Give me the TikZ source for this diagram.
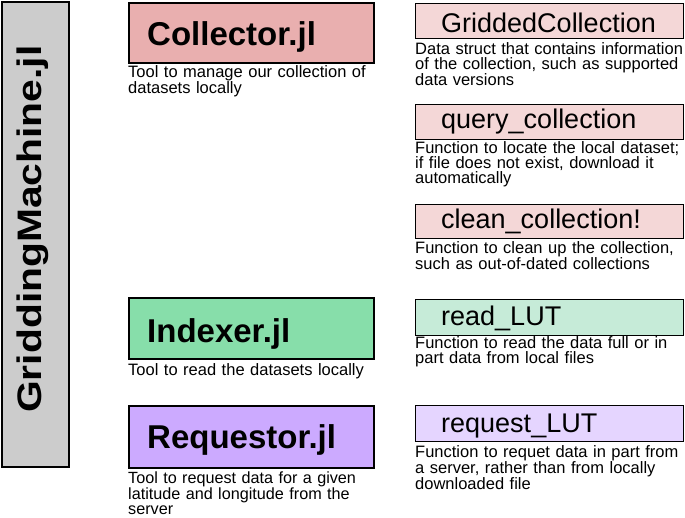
\documentclass[tikz,border=0pt]{standalone}
\usepackage{fontspec}
\setmainfont{Liberation Sans}
\definecolor{greyfill}{HTML}{CCCCCC}
\definecolor{colfill}{HTML}{E9AFAF}
\definecolor{colfunc}{HTML}{F4D7D7}
\definecolor{idxfill}{HTML}{87DEAA}
\definecolor{idxfunc}{HTML}{C6EBD8}
\definecolor{reqfill}{HTML}{CCAAFF}
\definecolor{reqfunc}{HTML}{E5D5FF}
\begin{document}
\begin{tikzpicture}[x=1pt,y=-1pt,
  modbox/.style={draw, line width=1.8pt, anchor=north west, inner sep=0pt, minimum width=245pt},
  funcbox/.style={draw, line width=1.2pt, anchor=north west, inner sep=0pt, minimum width=268pt},
  modtitle/.style={anchor=base west, inner sep=0pt, font=\fontsize{33}{36}\selectfont\bfseries},
  functitle/.style={anchor=base west, inner sep=0pt, font=\fontsize{27}{30}\selectfont},
  desc/.style={anchor=base west, inner sep=0pt, align=left, text width=275pt, font=\fontsize{16.5}{15.3}\selectfont}]
\useasboundingbox (0,0) rectangle (685,517);
% main package box
\node[draw, line width=2pt, fill=greyfill, anchor=north west, inner sep=0pt, minimum width=67pt, minimum height=465pt] (gm) at (1,1) {};
\node[rotate=90, anchor=base west, inner sep=0pt, font=\fontsize{34}{38}\selectfont\bfseries] (gmtext) at (41,413) {\scalebox{1.2}[1]{GriddingMachine.jl}};
% modules
\node[modbox, fill=colfill, minimum height=60pt] (collector) at (128,2) {};
\node[modtitle] (collectort) at (147,45) {Collector.jl};
\node[desc] (collectord) at (128,77) {Tool to manage our collection of\\datasets locally};
\node[modbox, fill=idxfill, minimum height=61pt] (indexer) at (128,297) {};
\node[modtitle] (indexert) at (147,342) {Indexer.jl};
\node[desc] (indexerd) at (128,375) {Tool to read the datasets locally};
\node[modbox, fill=reqfill, minimum height=62pt] (requestor) at (128,405) {};
\node[modtitle] (requestort) at (147,448) {Requestor.jl};
\node[desc, font=\fontsize{16.2}{15}\selectfont] (requestord) at (128,483) {Tool to request data for a given\\latitude and longitude from the\\server};
% functions
\node[funcbox, fill=colfunc, minimum height=35pt] (gc) at (415,3) {};
\node[functitle] (gct) at (441,32) {GriddedCollection};
\node[desc] (gcd) at (415,54) {Data struct that contains information\\of the collection, such as supported\\data versions};
\node[funcbox, fill=colfunc, minimum height=35pt] (qc) at (415,104) {};
\node[functitle] (qct) at (441,128) {query\_collection};
\node[desc] (qcd) at (415,153) {Function to locate the local dataset;\\if file does not exist, download it\\automatically};
\node[funcbox, fill=colfunc, minimum height=34pt] (cc) at (415,204) {};
\node[functitle] (cct) at (441,228) {clean\_collection!};
\node[desc] (ccd) at (415,253) {Function to clean up the collection,\\such as out-of-dated collections};
\node[funcbox, fill=idxfunc, minimum height=36pt] (rl) at (415,299) {};
\node[functitle] (rlt) at (441,325) {read\_LUT};
\node[desc] (rld) at (415,348) {Function to read the data full or in\\part data from local files};
\node[funcbox, fill=reqfunc, minimum height=36pt] (ql) at (415,405) {};
\node[functitle] (qlt) at (441,432) {request\_LUT};
\node[desc] (qld) at (415,457) {Function to requet data in part from\\a server, rather than from locally\\downloaded file};
\end{tikzpicture}
\end{document}
